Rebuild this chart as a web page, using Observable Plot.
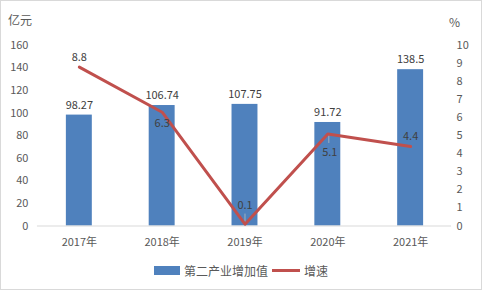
<!DOCTYPE html>
<html><head><meta charset="utf-8">
<script src="https://cdn.jsdelivr.net/npm/d3@7"></script>
<script src="https://cdn.jsdelivr.net/npm/@observablehq/plot@0.6"></script>
<style>
body{margin:0;background:#fff;font-family:"Noto Sans CJK SC","Noto Sans",sans-serif;}
#wrap{position:relative;width:480px;height:288px;border:1px solid #d9d9d9;background:#fff;}
#chart{position:absolute;left:-1px;top:-1px;}
.unit{position:absolute;font-size:12px;color:#595959;}
#legend{position:absolute;top:261px;left:0;width:480px;display:flex;justify-content:center;align-items:center;font-size:12px;color:#595959;}
.sw{display:inline-block;width:26px;height:9px;background:#4F81BD;margin-right:4px;}
.ln{display:inline-block;width:28px;height:3px;background:#C0504D;margin:0 4px 0 4px;}
</style></head>
<body>
<div id="wrap">
<div id="chart"></div>
<div class="unit" style="left:7px;top:10px;">亿元</div>
<div class="unit" style="left:448px;top:12px;">%</div>
<div id="legend"><span class="sw"></span><span>第二产业增加值</span><span class="ln"></span><span>增速</span></div>
</div>
<script>
const years = ["2017年","2018年","2019年","2020年","2021年"];
const valueAdded = [98.27, 106.74, 107.75, 91.72, 138.5];
const growth = [8.8, 6.3, 0.1, 5.1, 4.4];
const growthLabels = ["8.8","6.3","0.1","5.1","4.4"];
const valueLabels = ["98.27","106.74","107.75","91.72","138.5"];

const k = 16; // right axis (0-10) mapped onto left axis (0-160)
const data = years.map((y,i)=>({year:y, v:valueAdded[i], g:growth[i], vl:valueLabels[i], gl:growthLabels[i], above: i%2===0}));
const near = data.filter(d => d.year === "2017年" || d.year === "2021年");
const farAbove = data.filter(d => d.year === "2019年");
const nearBelow = data.filter(d => d.year === "2018年");
const farBelow = data.filter(d => d.year === "2020年");

const chart = Plot.plot({
  width: 482, height: 252,
  marginTop: 45, marginBottom: 26, marginLeft: 37, marginRight: 30,
  style: {fontFamily: '"Noto Sans CJK SC","Noto Sans",sans-serif', fontSize: "11px", color: "#595959", background: "transparent"},
  x: {domain: years, paddingInner: 0.69, paddingOuter: 0.345, label: null},
  y: {domain: [0,160], label: null},
  marks: [
    Plot.axisY({ticks: d3.range(0,161,20), tickSize: 0, tickPadding: 9, label: null, fontSize: 11}),
    Plot.axisY({anchor: "right", ticks: d3.range(0,161,16), tickFormat: d => d/k, tickSize: 0, tickPadding: 5, label: null, fontSize: 11}),
    Plot.axisX({tickSize: 0, tickPadding: 12, label: null, fontSize: 11}),
    Plot.barY(data, {x: "year", y: "v", fill: "#4F81BD"}),
    Plot.ruleY([0], {stroke: "#d9d9d9"}),
    Plot.text(data, {x: "year", y: "v", text: "vl", dy: -10, fill: "#404040", fontSize: 11}),
    Plot.ruleX(farAbove, {x: "year", y1: d => d.g*k, y2: d => d.g*k + 9, stroke: "#bfbfbf", strokeWidth: 0.75}),
    Plot.link(farBelow, {x1: "year", x2: "year", y1: d => d.g*k, y2: d => d.g*k - 8, stroke: "#bfbfbf", strokeWidth: 0.75, dx: 1}),
    Plot.line(data, {x: "year", y: d => d.g*k, stroke: "#C0504D", strokeWidth: 3, strokeLinejoin: "round"}),
    Plot.text(near, {x: "year", y: d => d.g*k, text: "gl", dy: -10, fill: "#404040", fontSize: 11}),
    Plot.text(farAbove, {x: "year", y: d => d.g*k, text: "gl", dy: -19, fill: "#404040", fontSize: 11}),
    Plot.text(nearBelow, {x: "year", y: d => d.g*k, text: "gl", dy: 11, fill: "#404040", fontSize: 11}),
    Plot.text(farBelow, {x: "year", y: d => d.g*k, text: "gl", dy: 19, dx: 2, fill: "#404040", fontSize: 11})
  ]
});
document.getElementById("chart").appendChild(chart);
</script>
</body></html>
